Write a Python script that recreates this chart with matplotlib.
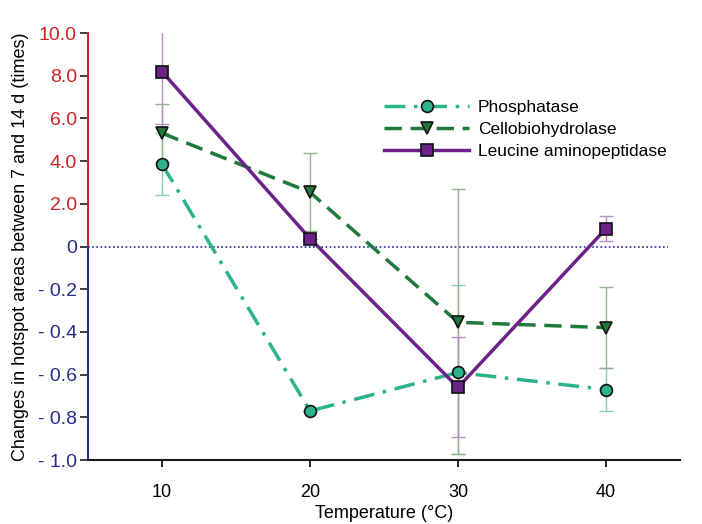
import numpy as np
import matplotlib.pyplot as plt

plt.rcParams['font.family'] = ['Liberation Sans', 'DejaVu Sans']

temps = [10, 20, 30, 40]

# changes in hotspot area (times); each series has its own lower/upper error limits
phos = [3.86, -0.77, -0.59, -0.67]
phos_lo = [2.40, -0.77, -0.97, -0.77]
phos_hi = [5.32, -0.77, -0.18, -0.57]

cello = [5.31, 2.54, -0.355, -0.38]
cello_lo = [3.94, 0.71, -0.97, -0.57]
cello_hi = [6.68, 4.38, 2.70, -0.19]

leu = [8.19, 0.37, -0.66, 0.84]
leu_lo = [5.75, 0.37, -0.89, 0.25]
leu_hi = [10.63, 0.37, -0.425, 1.42]

pos_ticks = [2.0, 4.0, 6.0, 8.0, 10.0]
neg_ticks = [-0.2, -0.4, -0.6, -0.8, -1.0]


def fold(v):
    # positive side runs 0..10, negative side 0..-1, same height each
    v = np.asarray(v, dtype=float)
    return np.where(v >= 0, v / 2.0, v * 5.0)


fig = plt.figure(figsize=(7.02, 5.24), dpi=100)
ax = fig.add_axes([0.1254, 0.1221, 0.8433, 0.8149])

series = [
    ('Phosphatase', phos, phos_lo, phos_hi, '#2bb38b', '#82cfb2', 'o', (6, 2.5, 1, 2.5)),
    ('Cellobiohydrolase', cello, cello_lo, cello_hi, '#1d7a3a', '#93b38c', 'v', (5, 2.5)),
    ('Leucine aminopeptidase', leu, leu_lo, leu_hi, '#6b2388', '#b98cc6', 's', None),
]

for name, y, lo, hi, col, ecol, mk, dash in series:
    yy = fold(y)
    err = [yy - fold(lo), fold(hi) - yy]
    ax.errorbar(temps, yy, yerr=err, fmt='none', ecolor=ecol, elinewidth=1,
                capsize=5, capthick=1, zorder=2)
    line, = ax.plot(temps, yy, color=col, lw=2.5, marker=mk, markersize=8.5,
                    markerfacecolor=col, markeredgecolor='#111111',
                    markeredgewidth=1.2, label=name, zorder=3)
    if dash:
        line.set_dashes(dash)

ax.axhline(0, xmin=0, xmax=0.98, color='#2a2a9a', lw=1.2, ls=(0, (1, 1.5)), zorder=1)

ax.set_xlim(5, 45)
ax.set_ylim(-5, 5)
ax.set_xticks(temps)
ax.tick_params(axis='x', labelsize=13, length=5, width=1.2, direction='out', pad=12)

yt = list(fold(neg_ticks[::-1])) + [0] + list(fold(pos_ticks))
ylabels = ['- %.1f' % abs(t) for t in neg_ticks[::-1]] + ['0'] + ['%.1f' % t for t in pos_ticks]
ax.set_yticks(yt)
ax.set_yticklabels(ylabels)
ax.tick_params(axis='y', labelsize=14, length=6, width=1.2, direction='out', colors='#1a1a1a', pad=2)
for lab, t in zip(ax.get_yticklabels(), yt):
    lab.set_color('#d0202a' if t > 0 else '#2a2a8c')

for side in ['top', 'right', 'left']:
    ax.spines[side].set_visible(False)
ax.spines['bottom'].set_linewidth(1.5)
ax.spines['bottom'].set_color('#1a1a1a')
# two-coloured y axis line
ax.plot([0, 0], [0.5, 1], transform=ax.transAxes, color='#d0202a', lw=1.5, clip_on=False)
ax.plot([0, 0], [0, 0.5], transform=ax.transAxes, color='#2a2a8c', lw=1.5, clip_on=False)

ax.set_xlabel('Temperature (\u00b0C)', fontsize=13, labelpad=3)
ax.set_ylabel('Changes in hotspot areas between 7 and 14 d (times)', fontsize=13, labelpad=6)

ax.legend(loc='upper left', bbox_to_anchor=(0.535, 0.826), bbox_transform=fig.transFigure,
          frameon=False, fontsize=12.5, handlelength=4.9, handletextpad=0.5,
          labelspacing=0.4, borderpad=0)

fig.savefig('out.png', dpi=100)
